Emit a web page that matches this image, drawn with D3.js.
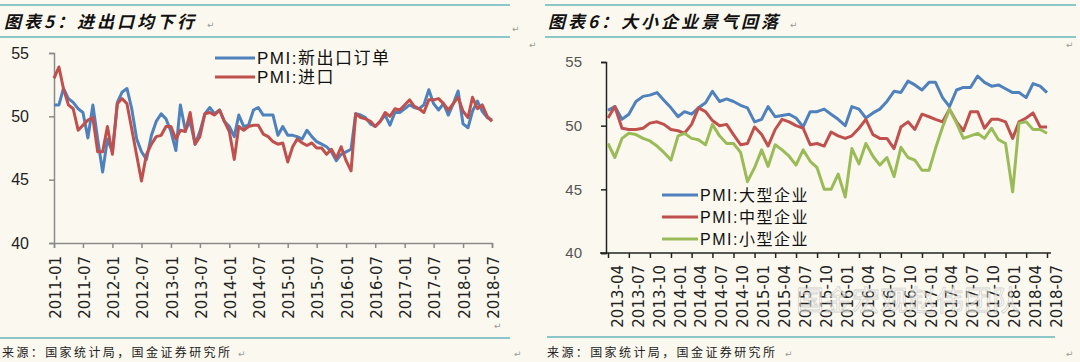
<!DOCTYPE html>
<meta charset="utf-8">
<style>
body { margin: 0; background: #fbf9ef; }
svg { display: block; }
.title { font: italic bold 17px "Noto Sans CJK SC", sans-serif; letter-spacing: 3px; fill: #111; }
.src { font: 12px "Noto Sans CJK SC", sans-serif; letter-spacing: 2.4px; fill: #222; }
.rule { stroke: #8cc6c9; stroke-width: 2; }
.mark { font: 9px "DejaVu Sans", sans-serif; fill: #999; }
.legend { font-family: "Liberation Sans", "Noto Sans CJK SC", sans-serif; letter-spacing: 1.5px; fill: #111; }
.line { fill: none; stroke-width: 3; stroke-linejoin: round; }
</style>
<svg width="1080" height="362"></svg>
<script src="https://cdn.jsdelivr.net/npm/d3@7"></script>
<script>

// ---- chart 5: monthly 2011-01 .. 2018-07
var exportOrders = [
  50.9, 50.9, 52.2, 51.4, 51.1, 50.6, 50.3, 48.3, 50.9, 48.2,
  45.6, 48.2, 47.2, 51.1, 51.9, 52.2, 50.6, 48.2, 47.2, 46.6,
  48.5, 49.6, 50.2, 49.8, 48.8, 47.3, 50.9, 48.9, 49.6, 47.8,
  48.8, 50.2, 50.7, 50.2, 50.5, 49.6, 49.2, 48.4, 50.1, 49.2,
  49.3, 50.5, 50.7, 50.1, 50.1, 50.1, 48.5, 49.2, 48.5, 48.5,
  48.4, 48.2, 48.9, 48.4, 48.0, 47.8, 47.6, 47.2, 46.5, 47.0,
  47.2, 47.4, 50.2, 50.1, 49.9, 49.4, 49.2, 49.6, 50.1, 49.3,
  50.3, 50.3, 50.6, 50.9, 50.7, 50.6, 50.9, 52.1, 51.0, 50.5,
  51.0, 50.1, 51.0, 52.0, 49.4, 49.1, 50.4, 51.2, 50.4, 49.9,
  49.7
];
var imports = [
  53.0, 53.9, 52.2, 50.9, 50.6, 48.9, 49.3, 49.7, 49.9, 47.2,
  47.2, 49.2, 47.0, 51.0, 51.4, 51.0, 49.0, 46.9, 44.9, 47.0,
  47.8, 48.4, 48.5, 49.2, 49.2, 48.2, 48.9, 48.8, 50.3, 47.8,
  48.4, 50.2, 50.3, 50.1, 50.5, 49.6, 48.8, 46.6, 49.2, 48.9,
  49.2, 49.3, 49.3, 48.6, 48.4, 48.0, 47.8, 47.9, 46.4, 47.6,
  48.2, 47.9, 47.7, 47.9, 47.5, 47.5, 47.0, 47.4, 46.7, 47.6,
  46.5, 45.7, 50.2, 49.9, 49.8, 49.6, 49.2, 49.6, 50.3, 50.0,
  50.6, 50.5, 50.9, 51.3, 50.8, 50.6, 50.3, 51.3, 51.3, 51.4,
  51.0, 50.5, 51.0, 51.5, 50.4, 49.9, 51.5, 50.6, 50.9, 50.0,
  49.6
];
var leftTicks = ["2011-01","2011-07","2012-01","2012-07","2013-01","2013-07","2014-01","2014-07",
                 "2015-01","2015-07","2016-01","2016-07","2017-01","2017-07","2018-01","2018-07"];

// ---- chart 6: monthly 2013-04 .. 2018-07
var large = [
  51.2, 51.5, 50.5, 50.9, 51.9, 52.3, 52.4, 52.6, 52.0, 51.4,
  50.7, 51.1, 50.9, 51.4, 51.8, 52.7, 51.9, 52.1, 51.9, 51.6,
  51.4, 50.3, 50.5, 51.5, 50.7, 50.8, 50.9, 50.6, 49.9, 51.1,
  51.1, 51.3, 50.9, 50.5, 50.0, 51.5, 51.3, 50.6, 51.0, 51.3,
  51.9, 52.7, 52.6, 53.5, 53.2, 52.8, 53.4, 53.4, 52.2, 51.5,
  52.8, 53.0, 53.0, 53.9, 53.4, 53.1, 53.2, 52.9, 52.6, 52.6,
  52.2, 53.3, 53.1, 52.6
];
var medium = [
  50.6, 51.5, 49.8, 49.7, 49.7, 49.8, 50.2, 50.3, 50.1, 49.7,
  49.6, 49.4, 50.1, 51.4, 51.1, 50.4, 50.0, 50.1, 49.3, 48.5,
  48.6, 49.9, 49.3, 48.4, 49.7, 50.5, 50.3, 50.0, 49.8, 48.5,
  48.6, 48.4, 49.5, 49.2, 49.0, 49.2, 49.8, 50.5, 49.3, 49.0,
  49.0, 48.2, 49.9, 50.3, 49.7, 50.9, 50.7, 50.5, 50.3, 51.3,
  50.3, 49.6, 51.1, 51.1, 49.8, 50.5, 50.5, 50.3, 49.0, 50.3,
  50.6, 51.0, 49.9, 49.9
];
var small = [
  48.6, 47.5, 49.0, 49.4, 49.3, 49.0, 48.8, 48.4, 47.9, 47.3,
  49.2, 49.4, 49.0, 48.9, 48.5, 50.1, 49.2, 48.6, 48.6, 47.9,
  45.6, 46.7, 48.1, 46.8, 48.5, 48.1, 47.6, 46.9, 48.1, 47.2,
  46.7, 45.0, 45.0, 46.2, 44.4, 48.2, 47.0, 48.6, 47.6, 46.9,
  47.5, 46.0, 48.3, 47.5, 47.3, 46.5, 46.5, 48.2, 49.9, 51.3,
  50.2, 49.0, 49.2, 49.4, 49.0, 49.8, 48.9, 48.6, 44.8, 50.2,
  50.3, 49.7, 49.7, 49.4
];
var rightTicks = ["2013-04","2013-07","2013-10","2014-01","2014-04","2014-07","2014-10","2015-01",
                  "2015-04","2015-07","2015-10","2016-01","2016-04","2016-07","2016-10","2017-01",
                  "2017-04","2017-07","2017-10","2018-01","2018-04","2018-07"];
var yTicks = [40, 45, 50, 55];

var blue = "#4f81bd", red = "#c0504d", green = "#9bbb59";
var parse = d3.timeParse("%Y-%m");
var svg = d3.select("svg");

function months(start, n) {
  var d0 = parse(start);
  return d3.range(n).map(function(i) { return d3.timeMonth.offset(d0, i); });
}

function rule(x1, x2, y) {
  svg.append("line").attr("class", "rule").attr("x1", x1).attr("x2", x2).attr("y1", y).attr("y2", y);
}
function mark(x, y) {
  svg.append("text").attr("class", "mark").attr("x", x).attr("y", y).text("\u21b5");
}

// frame: rules, titles, sources
rule(0, 510, 5); rule(0, 510, 37); rule(0, 510, 338);
rule(545, 1076, 5); rule(545, 1076, 37); rule(547, 1055, 337);
svg.append("text").attr("class", "title").attr("x", 4).attr("y", 28).text("图表5：进出口均下行");
svg.append("text").attr("class", "title").attr("x", 548).attr("y", 28).text("图表6：大小企业景气回落");
svg.append("text").attr("class", "src").attr("x", 2).attr("y", 357).text("来源：国家统计局，国金证券研究所");
svg.append("text").attr("class", "src").attr("x", 547).attr("y", 357).text("来源：国家统计局，国金证券研究所");
mark(207, 28); mark(512, 32); mark(529, 48); mark(494, 329); mark(238, 357); mark(514, 357);
mark(790, 28); mark(1066, 48); mark(785, 357); mark(1066, 357);

// ---- chart 5
(function() {
  var dates = months("2011-01", exportOrders.length);
  var x = d3.scaleTime().domain(d3.extent(dates)).range([54, 492]);
  var y = d3.scaleLinear().domain([40, 55]).range([243, 53]);
  var g = svg.append("g");

  var ya = g.append("g").attr("transform", "translate(54,0)")
      .call(d3.axisLeft(y).tickValues(yTicks).tickSize(5).tickPadding(20));
  var xa = g.append("g").attr("transform", "translate(0,243)")
      .call(d3.axisBottom(x).tickValues(leftTicks.map(parse)).tickSize(5).tickFormat(d3.timeFormat("%Y-%m")));
  g.selectAll(".domain, .tick line").attr("stroke", "#8a8a8a").attr("stroke-width", 1.5);
  ya.selectAll("text").style("font", "16px 'Liberation Sans', Arial, sans-serif").attr("fill", "#222");
  xa.selectAll("text")
      .style("font", "15px 'DejaVu Sans', sans-serif").attr("fill", "#222")
      .attr("text-anchor", "end").attr("dy", "0.35em")
      .attr("transform", "translate(1,13) rotate(-90)").attr("x", 0).attr("y", 0);

  var line = d3.line().x(function(d, i) { return x(dates[i]); }).y(function(d) { return y(d); });
  g.append("path").attr("class", "line").attr("stroke", blue).attr("d", line(exportOrders));
  g.append("path").attr("class", "line").attr("stroke", red).attr("d", line(imports));

  var leg = [["PMI:新出口订单", blue], ["PMI:进口", red]];
  leg.forEach(function(l, i) {
    var ly = 58 + i * 19;
    g.append("line").attr("x1", 215).attr("x2", 255).attr("y1", ly).attr("y2", ly)
        .attr("stroke", l[1]).attr("stroke-width", 3);
    g.append("text").attr("class", "legend").style("font-size", "17px")
        .attr("x", 257).attr("y", ly + 6).text(l[0]);
  });
})();

// ---- chart 6
(function() {
  var dates = months("2013-04", large.length);
  var x = d3.scaleTime().domain(d3.extent(dates)).range([608, 1047]);
  var y = d3.scaleLinear().domain([40, 55]).range([253, 62]);
  var g = svg.append("g");

  var ya = g.append("g").attr("transform", "translate(606,0)")
      .call(d3.axisLeft(y).tickValues(yTicks).tickSize(5).tickPadding(19));
  var xa = g.append("g").attr("transform", "translate(0,253)")
      .call(d3.axisBottom(x).tickValues(rightTicks.map(parse)).tickSize(5).tickFormat(d3.timeFormat("%Y-%m")));
  xa.select(".domain").attr("d", "M600,0H1051");
  g.selectAll(".domain, .tick line").attr("stroke", "#222").attr("stroke-width", 1.5);
  ya.selectAll("text").style("font", "15px 'Liberation Sans', Arial, sans-serif").attr("fill", "#555");
  // labels sit halfway between the tick marks
  xa.selectAll("text")
      .style("font", "15px 'DejaVu Sans', sans-serif").attr("fill", "#222")
      .attr("text-anchor", "end").attr("dy", "0.35em")
      .attr("transform", "translate(9,12) rotate(-90)").attr("x", 0).attr("y", 0);

  var line = d3.line().x(function(d, i) { return x(dates[i]); }).y(function(d) { return y(d); });
  g.append("path").attr("class", "line").attr("stroke", blue).attr("d", line(large));
  g.append("path").attr("class", "line").attr("stroke", red).attr("d", line(medium));
  g.append("path").attr("class", "line").attr("stroke", green).attr("d", line(small));

  var leg = [["PMI:大型企业", blue], ["PMI:中型企业", red], ["PMI:小型企业", green]];
  leg.forEach(function(l, i) {
    var ly = 195 + i * 22;
    g.append("line").attr("x1", 662).attr("x2", 698).attr("y1", ly).attr("y2", ly)
        .attr("stroke", l[1]).attr("stroke-width", 3);
    g.append("text").attr("class", "legend").style("font-size", "16px")
        .attr("x", 700).attr("y", ly + 6).text(l[0]);
  });

  // faint watermark over the axis labels
  svg.append("text").attr("x", 796).attr("y", 311)
      .style("font", "28px 'Noto Sans CJK SC', sans-serif")
      .attr("fill", "#ffffff").attr("fill-opacity", 0.55)
      .attr("stroke", "#9a9a9a").attr("stroke-opacity", 0.45).attr("stroke-width", 0.8)
      .text("国金宏观赵伟团队");
})();

</script>
